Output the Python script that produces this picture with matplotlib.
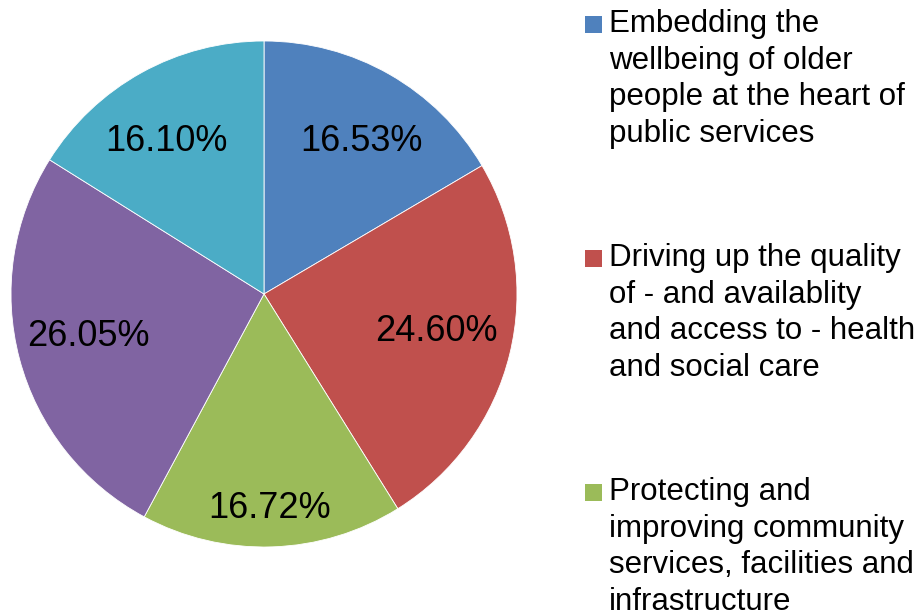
import numpy as np
import matplotlib
matplotlib.use("Agg")
import matplotlib.pyplot as plt
from matplotlib.patches import Rectangle

plt.rcParams['font.family'] = ['Liberation Sans', 'DejaVu Sans']

# ---- data ----
categories = [
    "Embedding the\nwellbeing of older\npeople at the heart of\npublic services",
    "Driving up the quality\nof - and availablity\nand access to - health\nand social care",
    "Protecting and\nimproving community\nservices, facilities and\ninfrastructure",
    "",
    "",
]
values = [16.53, 24.60, 16.72, 26.05, 16.10]
pct_labels = ["16.53%", "24.60%", "16.72%", "26.05%", "16.10%"]
colors = ["#4F81BD", "#C0504D", "#9BBB59", "#8064A2", "#4BACC6"]
label_radius = [0.728, 0.693, 0.835, 0.713, 0.728]
label_angle_shift = [-2.3, 2.6, -0.4, -2.3, 3.1]
legend_count = 3  # entries visible in the reference

W, H = 921, 610
fig = plt.figure(figsize=(W / 100, H / 100), dpi=100)
fig.patch.set_facecolor("white")

cx, cy, r = 264, 294, 253
ax = fig.add_axes([(cx - r) / W, (H - cy - r) / H, 2 * r / W, 2 * r / H])
wedges, _ = ax.pie(values, colors=colors, startangle=90, counterclock=False,
                   radius=1.0, wedgeprops=dict(edgecolor="white", linewidth=0.6))
ax.set_aspect("auto")
ax.set_xlim(-1, 1)
ax.set_ylim(-1, 1)
ax.axis("off")

digit_half = 13 / r  # half digit height in axes units
for w, lab, rad, sh in zip(wedges, pct_labels, label_radius, label_angle_shift):
    ang = np.deg2rad((w.theta1 + w.theta2) / 2 + sh)
    ax.text(rad * np.cos(ang), rad * np.sin(ang) - digit_half, lab,
            ha="center", va="baseline", fontsize=26, color="black")

# ---- legend (manual, top-right) ----
pitch = 234
for i in range(legend_count):
    top = 9 + i * pitch
    fig.patches.append(Rectangle((585 / W, 1 - (33 + i * pitch) / H), 17 / W, 17 / H,
                                 transform=fig.transFigure, facecolor=colors[i],
                                 edgecolor="none"))
    fig.text(609 / W, 1 - top / H, categories[i], ha="left", va="top",
             fontsize=22.5, color="black", linespacing=1.29)

fig.savefig("out.png", dpi=100, facecolor="white")
